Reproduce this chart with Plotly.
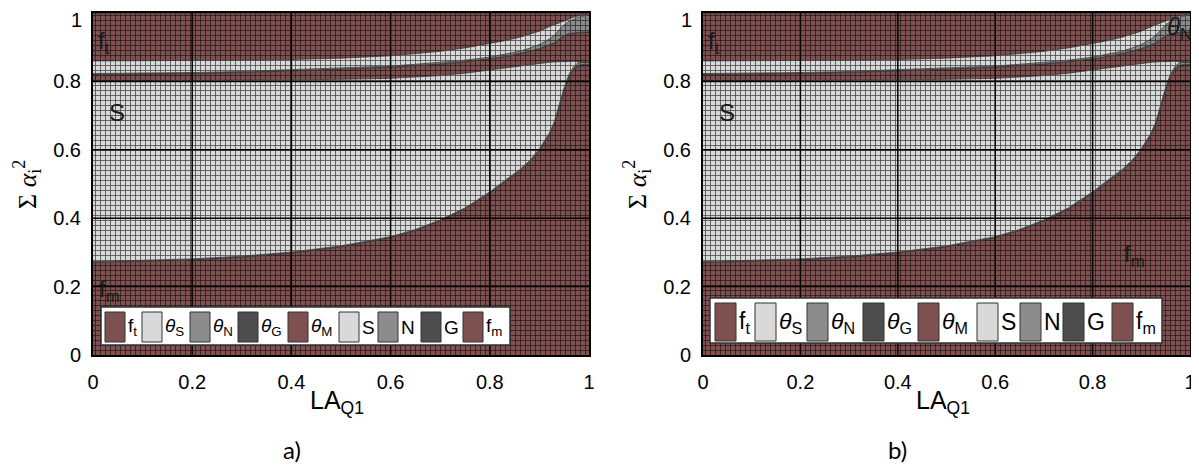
import plotly.graph_objects as go

# ---------------- data ----------------
X = [0, 0.1, 0.2, 0.3, 0.4, 0.5, 0.6, 0.65, 0.7, 0.75, 0.8, 0.83, 0.86, 0.88,
     0.9, 0.92, 0.93, 0.94, 0.95, 0.96, 0.97, 0.98, 0.99, 1.0]

# layer thicknesses, bottom to top
F_M = [0.270, 0.273, 0.278, 0.286, 0.298, 0.316, 0.343, 0.364, 0.392, 0.427, 0.472, 0.505,
       0.537, 0.563, 0.596, 0.642, 0.675, 0.722, 0.772, 0.812, 0.835, 0.843, 0.845, 0.845]
G = [0.001, 0.001, 0.001, 0.001, 0.001, 0.001, 0.001, 0.001, 0.001, 0.001, 0.002, 0.002,
     0.002, 0.002, 0.003, 0.003, 0.003, 0.004, 0.004, 0.004, 0.004, 0.005, 0.005, 0.004]
N = [0.002, 0.002, 0.002, 0.002, 0.002, 0.002, 0.002, 0.002, 0.002, 0.002, 0.003, 0.003,
     0.003, 0.003, 0.004, 0.004, 0.004, 0.006, 0.006, 0.006, 0.006, 0.008, 0.006, 0.006]
S = [0.527, 0.525, 0.521, 0.514, 0.503, 0.487, 0.463, 0.445, 0.422, 0.394, 0.357, 0.330,
     0.304, 0.282, 0.250, 0.207, 0.175, 0.126, 0.077, 0.038, 0.014, 0.001, 0.0, 0.0]
TH_M = [0.020, 0.020, 0.021, 0.023, 0.026, 0.029, 0.032, 0.033, 0.033, 0.033, 0.031, 0.032,
        0.034, 0.037, 0.042, 0.049, 0.055, 0.064, 0.073, 0.078, 0.082, 0.085, 0.087, 0.088]
TH_G = [0.001, 0.001, 0.001, 0.001, 0.001, 0.001, 0.001, 0.001, 0.001, 0.001, 0.001, 0.001,
        0.001, 0.001, 0.001, 0.001, 0.001, 0.002, 0.002, 0.002, 0.002, 0.002, 0.002, 0.002]
TH_N = [0.002, 0.002, 0.002, 0.002, 0.003, 0.003, 0.003, 0.004, 0.004, 0.004, 0.005, 0.006,
        0.007, 0.009, 0.012, 0.018, 0.022, 0.027, 0.032, 0.036, 0.040, 0.044, 0.047, 0.050]
TH_S = [0.037, 0.036, 0.035, 0.033, 0.030, 0.029, 0.030, 0.031, 0.033, 0.036, 0.039, 0.040,
        0.041, 0.040, 0.039, 0.036, 0.031, 0.021, 0.012, 0.008, 0.005, 0.004, 0.003, 0.002]
F_T = [0.140, 0.140, 0.139, 0.138, 0.136, 0.132, 0.125, 0.119, 0.112, 0.102, 0.090, 0.081,
       0.071, 0.063, 0.053, 0.040, 0.034, 0.028, 0.022, 0.016, 0.012, 0.008, 0.005, 0.003]

TICKS = [0, 0.2, 0.4, 0.6, 0.8, 1.0]
TICK_TEXT = ["0", "0.2", "0.4", "0.6", "0.8", "1"]

RED = "#7f5050"
LIGHT = "#d9d9d9"
MID = "#8c8c8c"
DARK = "#4d4d4d"

# stacking order bottom -> top
STACK = [
    ("f_m", F_M, RED),
    ("G", G, DARK),
    ("N", N, MID),
    ("S", S, LIGHT),
    ("theta_M", TH_M, RED),
    ("theta_G", TH_G, DARK),
    ("theta_N", TH_N, MID),
    ("theta_S", TH_S, LIGHT),
    ("f_t", F_T, RED),
]

LEGEND_LABELS = ["f<sub>t</sub>", "<i>θ</i><sub>S</sub>", "<i>θ</i><sub>N</sub>",
                 "<i>θ</i><sub>G</sub>", "<i>θ</i><sub>M</sub>", "S", "N", "G",
                 "f<sub>m</sub>"]
LEGEND_COLORS = [RED, LIGHT, MID, DARK, RED, LIGHT, MID, DARK, RED]

SANS = "Arial"
SERIF = "Times New Roman"

# ---------------- layout geometry ----------------
# the page body adds an 8 px margin on the top/left, so shift everything by it
OFF = 8
W, H = 1199 - OFF, 473 - OFF
AX_TOP, AX_BOT = 13 - OFF, 355 - OFF
PANELS = [
    dict(x0=93 - OFF, x1=589 - OFF, xs="x", ys="y", stack="a",
         leg_box=(8, 417, 10, 48), leg_icons=[12, 49, 97, 145, 195, 246, 285, 328, 370],
         icon_w=20, icon_y=(13, 43), leg_font=19, caption="a)", cap_x=292 - OFF,
         labels=[("f<sub>t</sub>", 3, 0.915), ("S", 14, 0.71), ("f<sub>m</sub>", 4, 0.19)]),
    dict(x0=703 - OFF, x1=1190 - OFF, xs="x2", ys="y2", stack="b",
         leg_box=(7, 459, 12, 57), leg_icons=[12, 52, 104, 160, 215, 274, 317, 360, 409],
         icon_w=21, icon_y=(14, 52), leg_font=23, caption="b)", cap_x=897 - OFF,
         labels=[("f<sub>t</sub>", 3, 0.915), ("S", 14, 0.71), ("f<sub>m</sub>", 419, 0.29),
                 ("<i>θ</i><sub>N</sub>", 462, 0.955)]),
]

fig = go.Figure()
shapes = []
annotations = []
ax_h = AX_BOT - AX_TOP

for p in PANELS:
    aw = p["x1"] - p["x0"]
    for name, vals, col in STACK:
        fig.add_trace(go.Scatter(
            x=X, y=vals, xaxis=p["xs"], yaxis=p["ys"], stackgroup=p["stack"],
            mode="lines", line=dict(color="#333333", width=0.8),
            fillcolor=col,
            fillpattern=dict(shape="+", size=5, solidity=0.28, fgcolor="#000000",
                             fgopacity=0.7, bgcolor=col),
            name=name, showlegend=False, hoverinfo="skip"))

    xd = p["xs"] + " domain"
    yd = p["ys"] + " domain"
    # grid lines above the areas
    for t in TICKS[1:-1]:
        shapes.append(dict(type="line", xref=p["xs"], yref=yd, x0=t, x1=t, y0=0, y1=1,
                           line=dict(color="black", width=1.5), layer="above"))
        shapes.append(dict(type="line", xref=xd, yref=p["ys"], x0=0, x1=1, y0=t, y1=t,
                           line=dict(color="black", width=1.5), layer="above"))
    # manual legend box
    bx0, bx1, by0, by1 = p["leg_box"]
    shapes.append(dict(type="rect", xref=xd, yref=yd, x0=bx0 / aw, x1=bx1 / aw,
                       y0=by0 / ax_h, y1=by1 / ax_h, fillcolor="white",
                       line=dict(color="#333333", width=1.5), layer="above"))
    iy0, iy1 = p["icon_y"]
    for off, col, lab in zip(p["leg_icons"], LEGEND_COLORS, LEGEND_LABELS):
        shapes.append(dict(type="rect", xref=xd, yref=yd, x0=off / aw,
                           x1=(off + p["icon_w"]) / aw, y0=iy0 / ax_h, y1=iy1 / ax_h,
                           fillcolor=col, line=dict(color="#333333", width=1), layer="above"))
        annotations.append(dict(text=lab, xref=xd, yref=yd, x=(off + p["icon_w"] + 1) / aw,
                                y=(iy0 + iy1) / 2 / ax_h, xanchor="left", yanchor="middle",
                                showarrow=False,
                                font=dict(family=SANS, size=p["leg_font"], color="black")))
    # region labels
    for txt, off, yy in p["labels"]:
        annotations.append(dict(text=txt, xref=xd, yref=p["ys"], x=off / aw, y=yy,
                                xanchor="left", yanchor="middle", showarrow=False,
                                font=dict(family=SANS, size=24, color="#1a1a1a")))
    # top y tick label, nudged down so it stays inside the page
    annotations.append(dict(text=TICK_TEXT[-1], xref=xd, yref=p["ys"], x=-9 / aw,
                            y=TICKS[-1], xanchor="right", yanchor="top", yshift=6,
                            showarrow=False,
                            font=dict(family=SANS, size=20, color="black")))
    # axis titles
    annotations.append(dict(
        text="Σ <i>α</i><sub>i</sub><sup>2</sup>", xref="paper", yref="paper",
        x=(p["x0"] - 66) / W, y=1 - (185 - OFF) / H, textangle=-90, showarrow=False,
        xanchor="center", yanchor="middle",
        font=dict(family=SERIF, size=26, color="black")))
    annotations.append(dict(
        text="LA<sub>Q1</sub>", xref="paper", yref="paper",
        x=((p["x0"] + p["x1"]) / 2 - 4) / W, y=1 - (402 - OFF) / H, showarrow=False,
        xanchor="center", yanchor="middle",
        font=dict(family=SANS, size=25, color="black")))
    annotations.append(dict(
        text=p["caption"], xref="paper", yref="paper", x=p["cap_x"] / W,
        y=1 - (449 - OFF) / H, showarrow=False, xanchor="center", yanchor="middle",
        font=dict(family="Lato", size=24, color="black")))

axis_common = dict(range=[0, 1], tickvals=TICKS, showgrid=False,
                   zeroline=False, showline=True, mirror=True, linecolor="black",
                   linewidth=2, ticks="", layer="above traces", automargin=False,
                   ticklabeloverflow="allow",
                   tickfont=dict(family=SANS, size=20, color="black"))
Y_TICK_TEXT = TICK_TEXT[:-1] + [""]

ydom = [1 - AX_BOT / H, 1 - AX_TOP / H]
fig.update_layout(
    width=W, height=H, margin=dict(l=0, r=0, t=0, b=0, autoexpand=False),
    paper_bgcolor="white", plot_bgcolor="white", showlegend=False,
    xaxis=dict(domain=[PANELS[0]["x0"] / W, PANELS[0]["x1"] / W], anchor="y",
               ticktext=TICK_TEXT, ticklabelstandoff=8, **axis_common),
    yaxis=dict(domain=ydom, anchor="x", ticktext=Y_TICK_TEXT, ticklabelstandoff=6,
               **axis_common),
    xaxis2=dict(domain=[PANELS[1]["x0"] / W, PANELS[1]["x1"] / W], anchor="y2",
                ticktext=TICK_TEXT, ticklabelstandoff=8, **axis_common),
    yaxis2=dict(domain=ydom, anchor="x2", ticktext=Y_TICK_TEXT, ticklabelstandoff=6,
                **axis_common),
    shapes=shapes, annotations=annotations,
)

fig.write_html("out.html")
